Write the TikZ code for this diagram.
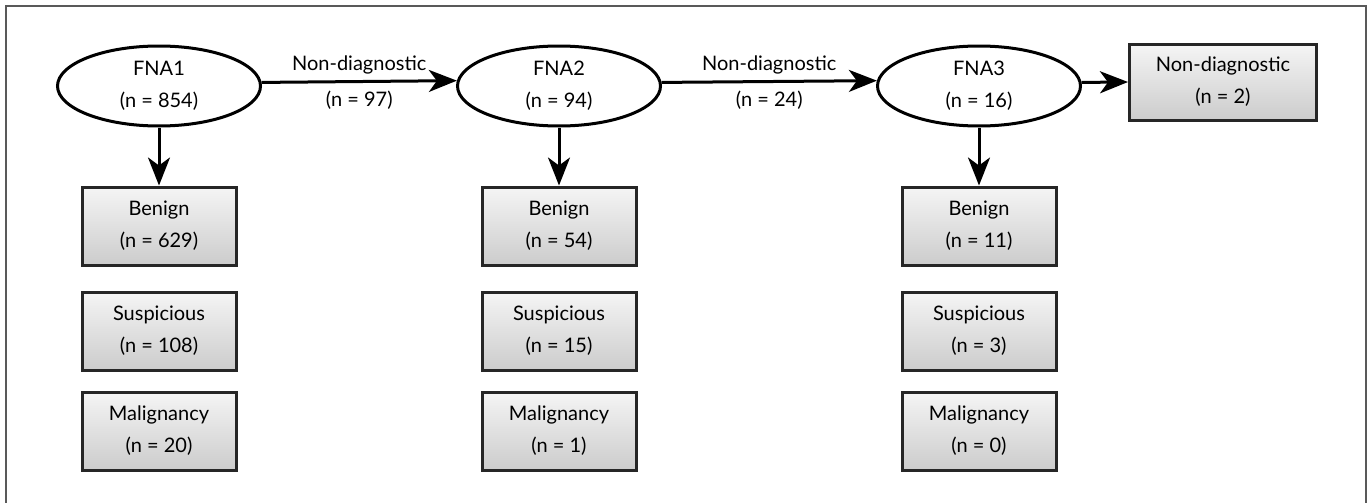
\documentclass[tikz,border=0pt]{standalone}
\usepackage{fontspec}
\setmainfont{Lato}
\usetikzlibrary{shapes.geometric,arrows.meta}
\tikzset{
  px/.style={x=0.5pt,y=-0.5pt},
  txt/.style={font=\fontsize{10}{16}\selectfont, align=center},
  fna/.style={ellipse, draw=black, line width=1.5pt, fill=white, minimum width=101.5pt, minimum height=40pt, inner sep=0pt, txt},
  resbox/.style={rectangle, draw=black!85, line width=1.5pt, top color=gray!8, bottom color=gray!40, minimum width=77pt, minimum height=39pt, inner sep=0pt, txt},
  ndbox/.style={resbox, minimum width=93.5pt, minimum height=38pt},
  arr/.style={-{Stealth[length=14pt,width=11pt,inset=4pt]}, line width=1.5pt},
  lab/.style={txt, inner sep=0pt}
}
\begin{document}
\begin{tikzpicture}[px]
\useasboundingbox (0,0) rectangle (1370,503);
\draw[gray!70!black, line width=1pt] (6,510) -- (6,6) -- (1366,6) -- (1366,510);
% ellipses
\node[fna] (f1) at (159,86) {FNA1\\(n = 854)};
\node[fna] (f2) at (559,86) {FNA2\\(n = 94)};
\node[fna] (f3) at (979,86) {FNA3\\(n = 16)};
\node[ndbox] (nd) at (1223,82) {Non-diagnostic\\(n = 2)};
% column 1
\node[resbox] (b1) at (159,226) {Benign\\(n = 629)};
\node[resbox] (s1) at (159,331) {Suspicious\\(n = 108)};
\node[resbox] (m1) at (159,431) {Malignancy\\(n = 20)};
% column 2
\node[resbox] (b2) at (559,226) {Benign\\(n = 54)};
\node[resbox] (s2) at (559,331) {Suspicious\\(n = 15)};
\node[resbox] (m2) at (559,431) {Malignancy\\(n = 1)};
% column 3
\node[resbox] (b3) at (979,226) {Benign\\(n = 11)};
\node[resbox] (s3) at (979,331) {Suspicious\\(n = 3)};
\node[resbox] (m3) at (979,431) {Malignancy\\(n = 0)};
% arrows
\draw[arr] (f1.south) -- (b1.north);
\draw[arr] (f2.south) -- (b2.north);
\draw[arr] (f3.south) -- (b3.north);
\draw[arr] (f1.2.6) -- node[lab, above=3pt] {Non-diagnostic} node[lab, below=4pt] {(n = 97)} (f2.177.4);
\draw[arr] (f2.2.6) -- node[lab, above=3pt] {Non-diagnostic} node[lab, below=4pt] {(n = 24)} (f3.177.4);
\draw[arr] (f3.2.6) -- (nd.west);
\end{tikzpicture}
\end{document}
